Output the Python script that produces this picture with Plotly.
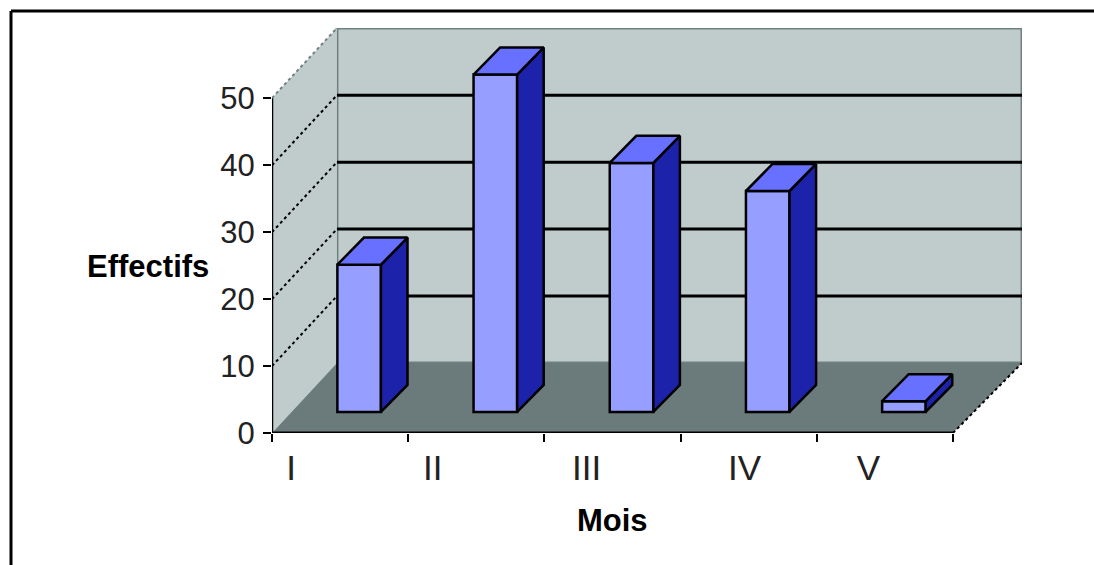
import plotly.graph_objects as go

# Data
months = ["I", "II", "III", "IV", "V"]
effectifs = [22, 50.4, 37.2, 33, 1.6]
y_ticks = [0, 10, 20, 30, 40, 50]

# Colours
WALL = "#c0cccc"
FLOOR = "#6b7b7b"
EDGE = "#6f8080"
FRONT = "#969eff"
TOP = "#6870ff"
SIDE = "#1c23aa"
INK = "#000000"

# Canvas and axis placement
W, H = 1094, 565
X_RANGE = [0, 5.507]
Y_RANGE = [0, 60.5]
DOMAIN_X = [272 / W, 1022 / W]
DOMAIN_Y = [1 - 433 / H, 1 - 28 / H]

# Oblique projection, in axis units
ROOM_DX, ROOM_DY = 0.477, 10.46
BAR_DX, BAR_DY = 0.195, 4.04
BAR_LIFT = 3.15
BAR_SHIFT = 0.14
BAR_WIDTH = 0.32

# Horizontal anchors of the month labels, in axis units
LABEL_X = [0.14, 1.18, 2.31, 3.47, 4.38]

Y_TICK_FONT = dict(family="Liberation Sans", size=31, color="#222222")
X_TICK_FONT = dict(family="Liberation Sans", size=35, color="#222222")
TITLE_FONT = dict(family="Liberation Sans", size=31, color="#000000", weight="bold")


def polygon_shape(xs, ys, fill, line_color=None, line_width=0):
    path = "M " + " L ".join(f"{x},{y}" for x, y in zip(xs, ys)) + " Z"
    return dict(type="path", path=path, xref="x", yref="y", layer="below",
                fillcolor=fill, line=dict(color=line_color or fill, width=line_width))


def line_shape(x0, y0, x1, y1, color=INK, width=2, dash="solid", layer="below"):
    return dict(type="line", x0=x0, y0=y0, x1=x1, y1=y1, xref="x", yref="y", layer=layer,
                line=dict(color=color, width=width, dash=dash))


y_top = Y_RANGE[1]
left_top = y_top - ROOM_DY

shapes = [
    # Back wall, side wall and floor of the room
    polygon_shape([ROOM_DX, X_RANGE[1], X_RANGE[1], ROOM_DX],
                  [ROOM_DY, ROOM_DY, y_top, y_top], WALL, EDGE, 3),
    polygon_shape([0, ROOM_DX, ROOM_DX, 0], [0, ROOM_DY, y_top, left_top], WALL),
    line_shape(0, left_top, ROOM_DX, y_top, EDGE, 2, "dot"),
    polygon_shape([0, ROOM_DX, X_RANGE[1], 5], [0, ROOM_DY, ROOM_DY, 0], FLOOR),
    line_shape(5, 0, X_RANGE[1], ROOM_DY, INK, 2, "dot"),
]

# Gridlines: solid on the back wall, dotted across the side wall
for v in y_ticks[1:-1]:
    shapes.append(line_shape(ROOM_DX, v + ROOM_DY, X_RANGE[1], v + ROOM_DY, INK, 3))
for v in y_ticks[1:-1]:
    shapes.append(line_shape(0, v, ROOM_DX, v + ROOM_DY, INK, 2, "dot"))

# Axis lines stop at the last tick and the last category
shapes.append(line_shape(0, 0, 0, y_ticks[-1], INK, 2.5, layer="above"))
shapes.append(line_shape(0, 0, 5, 0, INK, 3, layer="above"))

# Page frame: top and left rules only
shapes.append(dict(type="line", xref="paper", yref="paper", x0=11 / W, x1=1, y0=1 - 11 / H, y1=1 - 11 / H,
                   line=dict(color=INK, width=3)))
shapes.append(dict(type="line", xref="paper", yref="paper", x0=11 / W, x1=11 / W, y0=0, y1=1 - 11 / H,
                   line=dict(color=INK, width=3)))

fig = go.Figure()

centres = [i + 0.5 + BAR_SHIFT for i in range(len(months))]

# Front faces
fig.add_trace(go.Bar(
    x=centres, y=effectifs, base=[BAR_LIFT] * len(effectifs), width=BAR_WIDTH,
    marker=dict(color=FRONT, line=dict(color=INK, width=2.5)),
    showlegend=False, hoverinfo="skip",
))

# Side and top faces, derived from each bar's value
for c, v in zip(centres, effectifs):
    x0, x1 = c - BAR_WIDTH / 2, c + BAR_WIDTH / 2
    y0, y1 = BAR_LIFT, BAR_LIFT + v
    fig.add_trace(go.Scatter(
        x=[x1, x1 + BAR_DX, x1 + BAR_DX, x1, x1],
        y=[y0, y0 + BAR_DY, y1 + BAR_DY, y1, y0],
        mode="lines", fill="toself", fillcolor=SIDE, line=dict(color=INK, width=2.5),
        showlegend=False, hoverinfo="skip",
    ))
    fig.add_trace(go.Scatter(
        x=[x0, x0 + BAR_DX, x1 + BAR_DX, x1, x0],
        y=[y1, y1 + BAR_DY, y1 + BAR_DY, y1, y1],
        mode="lines", fill="toself", fillcolor=TOP, line=dict(color=INK, width=2.5),
        showlegend=False, hoverinfo="skip",
    ))

fig.update_layout(
    width=W, height=H, autosize=False,
    margin=dict(l=0, r=0, t=0, b=0),
    paper_bgcolor="#ffffff", plot_bgcolor="rgba(0,0,0,0)",
    barmode="overlay", shapes=shapes,
    xaxis=dict(
        domain=DOMAIN_X, range=X_RANGE, showgrid=False, zeroline=False, showline=False,
        automargin=False,
        tickmode="array", tickvals=LABEL_X, ticktext=months, ticks="",
        tickfont=X_TICK_FONT, ticklabelstandoff=11,
        minor=dict(tickmode="linear", tick0=0, dtick=1, ticks="outside", ticklen=8,
                   tickwidth=2, tickcolor=INK, showgrid=False),
    ),
    yaxis=dict(
        domain=DOMAIN_Y, range=Y_RANGE, showgrid=False, zeroline=False, showline=False,
        automargin=False,
        tickmode="array", tickvals=y_ticks, ticks="outside", ticklen=8, tickwidth=2,
        tickcolor=INK, tickfont=Y_TICK_FONT, ticklabelstandoff=2,
    ),
    annotations=[
        dict(text="Effectifs", xref="paper", yref="paper", x=148 / W, y=1 - 266 / H,
             xanchor="center", yanchor="middle", showarrow=False, font=TITLE_FONT),
        dict(text="Mois", xref="paper", yref="paper", x=612 / W, y=1 - 520 / H,
             xanchor="center", yanchor="middle", showarrow=False, font=TITLE_FONT),
    ],
)

fig.write_html("out.html")
